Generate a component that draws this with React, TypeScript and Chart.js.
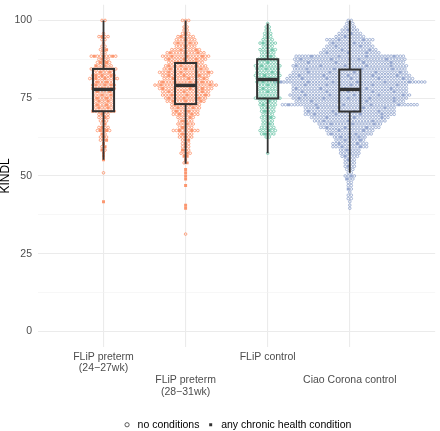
import React, { useEffect, useRef } from 'react';
import { Chart, registerables } from 'chart.js';

Chart.register(...registerables);

// ---------- DATA ----------
const CATEGORIES = [
  'FLiP preterm\n(24−27wk)',
  'FLiP preterm\n(28−31wk)',
  'FLiP control',
  'Ciao Corona control',
];

// KINDL score levels (bins), from top to bottom
const KINDL_LEVELS = [
  100, 99.0, 97.9, 96.9, 95.8, 94.8, 93.8, 92.7, 91.7, 90.6,
  89.6, 88.5, 87.5, 86.5, 85.4, 84.4, 83.3, 82.3, 81.3, 80.2,
  79.2, 78.1, 77.1, 76.0, 75.0, 74.0, 72.9, 71.9, 70.8, 69.8,
  68.8, 67.7, 66.7, 65.6, 64.6, 63.5, 62.5, 61.5, 60.4, 59.4,
  58.3, 57.3, 56.3, 55.2, 54.2, 53.1, 52.1, 51.0, 50.0, 49.0,
  47.9, 46.9, 45.8, 44.8, 43.8, 42.7, 41.7, 40.6, 39.6, 38.5,
  37.5, 36.5, 35.4, 34.4, 33.3, 32.3, 31.3,
];

// number of children per level (all), and with a chronic condition
const PRETERM_24_27_ALL = [
  2, 0, 0, 0, 1, 4, 2, 1, 2, 3,
  2, 9, 4, 5, 6, 9, 7, 8, 10, 7,
  8, 8, 7, 6, 7, 6, 7, 6, 8, 4,
  4, 3, 2, 4, 5, 2, 3, 3, 1, 2,
  2, 1, 1, 1, 0, 0, 0, 1, 0, 0,
  0, 0, 0, 0, 0, 0, 1,
];
const PRETERM_24_27_CHRONIC = [
  0, 0, 0, 0, 0, 1, 0, 0, 0, 1,
  0, 3, 1, 2, 2, 3, 2, 3, 3, 2,
  3, 3, 2, 2, 2, 2, 2, 2, 3, 1,
  1, 1, 1, 1, 2, 1, 1, 1, 1, 1,
  1, 1, 1, 1, 0, 0, 0, 0, 0, 0,
  0, 0, 0, 0, 0, 0, 1,
];
const PRETERM_28_31_ALL = [
  3, 1, 2, 2, 3, 6, 7, 8, 7, 10,
  13, 16, 14, 12, 14, 15, 18, 16, 15, 18,
  21, 18, 16, 16, 14, 13, 10, 10, 9, 9,
  6, 5, 6, 5, 9, 5, 5, 3, 3, 3,
  3, 4, 2, 1, 2, 0, 1, 1, 1, 1,
  0, 1, 0, 0, 0, 0, 0, 1, 1, 0,
  0, 0, 0, 0, 0, 0, 1,
];
const PRETERM_28_31_CHRONIC = [
  0, 0, 0, 0, 1, 1, 1, 2, 1, 2,
  3, 3, 3, 2, 3, 3, 4, 3, 3, 4,
  4, 4, 3, 3, 3, 3, 2, 2, 2, 2,
  1, 1, 1, 1, 2, 1, 1, 1, 1, 1,
  1, 1, 2, 1, 1, 0, 1, 1, 1, 1,
  0, 1, 0, 0, 0, 0, 0, 1, 1, 0,
  0, 0, 0, 0, 0, 0, 0,
];
const FLIP_CONTROL_ALL = [
  0, 1, 2, 2, 3, 3, 4, 6, 4, 6,
  5, 5, 7, 7, 9, 8, 8, 9, 8, 8,
  7, 6, 7, 6, 9, 6, 6, 5, 5, 4,
  5, 4, 4, 5, 6, 5, 2, 0, 0, 0,
  0, 1,
];
const FLIP_CONTROL_CHRONIC = [
  0, 0, 0, 0, 0, 0, 0, 1, 0, 1,
  0, 1, 1, 1, 1, 1, 1, 1, 1, 1,
  1, 1, 1, 0, 1, 1, 1, 0, 1, 0,
  1, 0, 1, 0, 1, 1, 0, 0, 0, 0,
  0, 0,
];
const CIAO_CORONA_ALL = [
  2, 3, 4, 6, 8, 10, 16, 14, 16, 18,
  20, 36, 37, 36, 38, 37, 38, 40, 42, 50,
  38, 38, 38, 40, 38, 36, 45, 30, 30, 30,
  26, 24, 21, 20, 16, 15, 11, 10, 12, 12,
  7, 7, 6, 4, 4, 4, 3, 2, 4, 3,
  2, 2, 2, 1, 2, 2, 1, 1, 1,
];
const CIAO_CORONA_CHRONIC = [
  0, 0, 0, 1, 1, 1, 2, 2, 2, 2,
  3, 4, 4, 4, 5, 4, 5, 5, 5, 6,
  5, 5, 5, 5, 5, 4, 5, 4, 4, 4,
  3, 3, 3, 3, 2, 2, 2, 2, 2, 2,
  1, 1, 1, 1, 0, 1, 0, 0, 1, 1,
  0, 0, 1, 0, 0, 0, 0, 0, 0,
];

// box plot statistics per category
const BOX_Q1 = [70.8, 73.1, 74.9, 70.7];
const BOX_MEDIAN = [77.8, 79.1, 81.0, 77.8];
const BOX_Q3 = [84.4, 86.3, 87.5, 84.2];
const WHISKER_LOW = [55.2, 53.9, 57.3, 51.0];
const WHISKER_HIGH = [100, 100, 99.0, 100];

const Y_TICKS = [0, 25, 50, 75, 100];
const LEGEND_LABELS = ['no conditions', 'any chronic health condition'];

// ---------- STYLE ----------
const GROUP_COLORS = ['252,141,98', '252,141,98', '102,194,165', '141,160,203'];
const FONT = "'Liberation Sans', Arial, Helvetica, sans-serif";
const X_MIN = 0.202;
const X_MAX = 5.04;
const CAT_PX = 83.1; // px per category unit
const DOT_STEP = 3.1 / CAT_PX;
const BOX_HALF = 10.7 / CAT_PX;

const GROUP_ALL = [PRETERM_24_27_ALL, PRETERM_28_31_ALL, FLIP_CONTROL_ALL, CIAO_CORONA_ALL];
const GROUP_CHRONIC = [PRETERM_24_27_CHRONIC, PRETERM_28_31_CHRONIC, FLIP_CONTROL_CHRONIC, CIAO_CORONA_CHRONIC];

function layoutDots(g: number, all: number[], chronic: number[]) {
  const open: { x: number; y: number }[] = [];
  const filled: { x: number; y: number }[] = [];
  all.forEach((n, i) => {
    if (!n) return;
    const f = Math.min(chronic[i] || 0, n);
    const y = KINDL_LEVELS[i];
    const chosen = new Set<number>();
    const phase = ((i * 3) % 7) / 7;
    for (let k = 0; k < f; k++) {
      let idx = Math.floor(((k + 0.25 + phase * 0.5) * n) / f) % n;
      while (chosen.has(idx)) idx = (idx + 1) % n;
      chosen.add(idx);
    }
    for (let j = 0; j < n; j++) {
      const pt = { x: g + (j - (n - 1) / 2) * DOT_STEP, y };
      (chosen.has(j) ? filled : open).push(pt);
    }
  });
  return { open, filled };
}

const boxPlugin = {
  id: 'boxes',
  afterDatasetsDraw(chart: any) {
    const { ctx, scales } = chart;
    const xs = scales.x;
    const ys = scales.y;
    ctx.save();
    ctx.strokeStyle = '#333333';
    for (let i = 0; i < CATEGORIES.length; i++) {
      const g = i + 1;
      const xc = xs.getPixelForValue(g);
      const xl = xs.getPixelForValue(g - BOX_HALF);
      const xr = xs.getPixelForValue(g + BOX_HALF);
      const q1 = ys.getPixelForValue(BOX_Q1[i]);
      const q3 = ys.getPixelForValue(BOX_Q3[i]);
      const med = ys.getPixelForValue(BOX_MEDIAN[i]);
      const wl = ys.getPixelForValue(WHISKER_LOW[i]);
      const wh = ys.getPixelForValue(WHISKER_HIGH[i]);
      ctx.lineWidth = 1.8;
      ctx.beginPath();
      ctx.moveTo(xc, q3);
      ctx.lineTo(xc, wh);
      ctx.moveTo(xc, q1);
      ctx.lineTo(xc, wl);
      ctx.stroke();
      ctx.lineWidth = 2;
      ctx.strokeRect(xl, q3, xr - xl, q1 - q3);
      ctx.lineWidth = 3.4;
      ctx.beginPath();
      ctx.moveTo(xl, med);
      ctx.lineTo(xr, med);
      ctx.stroke();
    }
    ctx.restore();
  },
};

export default function App() {
  const ref = useRef<HTMLCanvasElement | null>(null);

  useEffect(() => {
    if (!ref.current) return;
    Chart.defaults.font.family = FONT;

    const datasets: any[] = [];
    GROUP_ALL.forEach((all, i) => {
      const { open, filled } = layoutDots(i + 1, all, GROUP_CHRONIC[i]);
      const c = GROUP_COLORS[i];
      datasets.push({
        label: CATEGORIES[i] + ' no conditions',
        data: open,
        pointStyle: 'circle',
        pointRadius: 1.3,
        pointBorderWidth: 0.85,
        pointBorderColor: `rgba(${c},0.9)`,
        pointBackgroundColor: 'rgba(255,255,255,0)',
        showLine: false,
      });
      datasets.push({
        label: CATEGORIES[i] + ' chronic',
        data: filled,
        pointStyle: 'rect',
        pointRadius: 2.1,
        pointBorderWidth: 0,
        pointBorderColor: `rgba(${c},0.9)`,
        pointBackgroundColor: `rgba(${c},0.9)`,
        showLine: false,
      });
    });

    const chart = new Chart(ref.current, {
      type: 'scatter',
      data: { datasets },
      options: {
        animation: false,
        responsive: false,
        events: [],
        layout: { padding: 0 },
        scales: {
          x: {
            type: 'linear',
            min: X_MIN,
            max: X_MAX,
            afterBuildTicks: (s: any) => {
              s.ticks = CATEGORIES.map((_, i) => ({ value: i + 1 }));
            },
            afterFit: (s: any) => {
              s.height = 66.5;
              s.paddingLeft = 0;
              s.paddingRight = 0;
            },
            grid: { color: '#EBEBEB', lineWidth: 1.1, drawTicks: false },
            border: { display: false },
            ticks: {
              autoSkip: false,
              maxRotation: 0,
              minRotation: 0,
              padding: 4,
              color: '#4D4D4D',
              font: { size: 10.5, lineHeight: 1.11 },
              callback: (v: any) => {
                const idx = Math.round(v) - 1;
                const lines = CATEGORIES[idx].split('\n');
                return idx % 2 === 1 ? ['', '', ...lines] : lines;
              },
            },
          },
          y: {
            type: 'linear',
            min: -5,
            max: 105,
            afterBuildTicks: (s: any) => {
              const t: any[] = [];
              Y_TICKS.forEach((v, i) => {
                t.push({ value: v });
                if (i < Y_TICKS.length - 1) t.push({ value: (v + Y_TICKS[i + 1]) / 2 });
              });
              s.ticks = t;
            },
            afterFit: (s: any) => {
              s.width = 38;
              s.paddingTop = 0;
              s.paddingBottom = 0;
            },
            grid: {
              drawTicks: false,
              color: (ctx: any) => (Y_TICKS.includes(ctx.tick?.value) ? '#EBEBEB' : '#F2F2F2'),
              lineWidth: (ctx: any) => (Y_TICKS.includes(ctx.tick?.value) ? 1.1 : 0.6),
            },
            border: { display: false },
            title: {
              display: true,
              text: 'KINDL',
              color: '#000000',
              font: { size: 12, lineHeight: 1 },
              padding: 0,
            },
            ticks: {
              padding: 6,
              color: '#4D4D4D',
              font: { size: 10.5 },
              callback: (v: any) => (Y_TICKS.includes(v) ? String(v) : ''),
            },
          },
        },
        plugins: {
          tooltip: { enabled: false },
          legend: {
            display: true,
            position: 'bottom',
            fullSize: false,
            labels: {
              usePointStyle: true,
              boxWidth: 19.5,
              boxHeight: 3,
              padding: 6,
              color: '#1A1A1A',
              font: { size: 10.5 },
              generateLabels: () => [
                {
                  text: LEGEND_LABELS[0],
                  pointStyle: 'circle',
                  fillStyle: 'rgba(0,0,0,0)',
                  strokeStyle: '#333333',
                  lineWidth: 0.8,
                  hidden: false,
                  datasetIndex: 0,
                },
                {
                  text: LEGEND_LABELS[1],
                  pointStyle: 'rect',
                  fillStyle: '#333333',
                  strokeStyle: '#333333',
                  lineWidth: 0,
                  hidden: false,
                  datasetIndex: 1,
                },
              ],
            },
          },
        },
      },
      plugins: [boxPlugin],
    } as any);

    return () => chart.destroy();
  }, []);

  return (
    <div style={{ position: 'fixed', left: 0, top: 0, width: 440, height: 440, background: '#fff' }}>
      <canvas ref={ref} width={440} height={440} style={{ display: 'block' }} />
    </div>
  );
}
